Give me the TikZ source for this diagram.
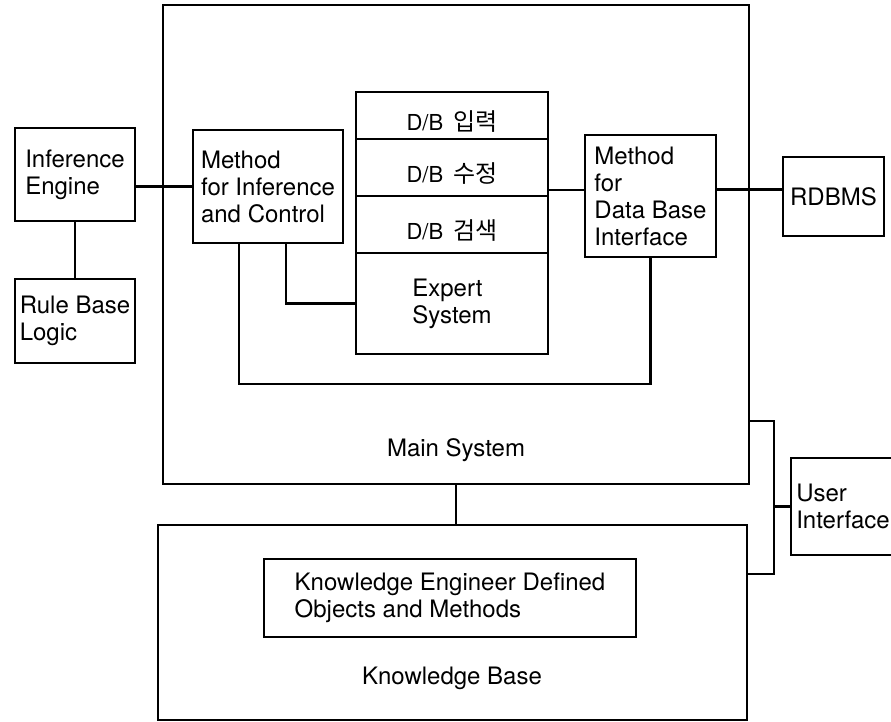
\documentclass[tikz,border=0pt]{standalone}
\usepackage{fontspec}
\setmainfont{TeX Gyre Heros}
\newfontfamily\krfont{Noto Sans CJK KR}
\usepackage{tikz}
\usetikzlibrary{positioning}
\tikzstyle{frame} = [rectangle, draw, line width=1.1pt, inner sep=0pt, outer sep=0pt]
\tikzstyle{unit} = [frame, align=left, font=\fontsize{12}{13.5}\selectfont]
\tikzstyle{cell} = [frame, minimum width=96pt, font=\fontsize{11}{12}\selectfont, text height=15pt, text depth=0pt]
\tikzstyle{caption} = [font=\fontsize{12}{13.5}\selectfont, align=left]
\tikzstyle{link} = [line width=1.1pt]
\newcommand{\dbrow}[1]{D/B\hspace{5pt}{\krfont\fontsize{12}{12}\selectfont #1}}

\begin{document}
\begin{tikzpicture}[x=0.5pt, y=-0.5pt]
\useasboundingbox (0,0) rectangle (891,722);
% Main system
\node (Main) [frame, minimum width=293pt, minimum height=239.5pt] at (456,244.5) {};
\node (MainLbl) [caption] at (456,450) {Main System};
\node (Inference) [unit, minimum width=60pt, minimum height=46.5pt] at (75,174.5) {Inference\\Engine};
\node (RuleBase) [unit, minimum width=60pt, minimum height=42pt] at (75,321) {Rule Base\\Logic};
\node (Method) [unit, minimum width=75pt, minimum height=56.5pt] at (268,186.5) {Method\\for Inference\\and Control};

% D/B column
\node (Input) [cell, minimum height=23.5pt] at (452,115.5) {\dbrow{입력}};
\node (Update) [cell, minimum height=28.5pt, below=0pt of Input] {\dbrow{수정}};
\node (Search) [cell, minimum height=28.5pt, below=0pt of Update] {\dbrow{검색}};
\node (Expert) [unit, minimum width=96pt, minimum height=50.5pt, below=0pt of Search] {Expert\\System};

\node (DBI) [unit, minimum width=65.5pt, minimum height=61pt] at (650.5,196) {Method\\for\\Data Base\\Interface};
\node (RDBMS) [unit, minimum width=50.5pt, minimum height=39.5pt] at (833.5,196.5) {RDBMS};
\node (UI) [unit, minimum width=52pt, minimum height=48.5pt] at (843,506.5) {User\\Interface};

% Knowledge base
\node (KB) [frame, minimum width=294.5pt, minimum height=97.5pt] at (452.5,622.5) {};
\node (KEDO) [unit, minimum width=186pt, minimum height=39pt] at (450,598) {Knowledge Engineer Defined\\Objects and Methods};
\node (KBLbl) [caption] at (452,678) {Knowledge Base};

% Links
\coordinate (busLow) at (450,384);
\coordinate (uiTop) at (774,421);
\coordinate (uiBot) at (774,574);
\draw[link] (Method.west) -- (Method.west -| Inference.east);
\draw[link] (Inference.south) -- (RuleBase.north);
\draw[link] ([xshift=-28.5pt]Method.south east) |- (Expert.west);
\draw[link] ([xshift=23pt]Method.south west) |- (busLow) -| (DBI.south);
\draw[link] ([yshift=3pt]DBI.west) -- ([yshift=3pt]DBI.west -| Update.east);
\draw[link] ([yshift=3.5pt]RDBMS.west) -- ([yshift=3.5pt]RDBMS.west -| DBI.east);
\draw[link] (Main.south) -- (Main.south |- KB.north);
\draw[link] (uiTop -| Main.east) -- (uiTop) -- (uiBot) -- (uiBot -| KB.east);
\draw[link] (UI.west) -- (UI.west -| uiTop);
\end{tikzpicture}
\end{document}
